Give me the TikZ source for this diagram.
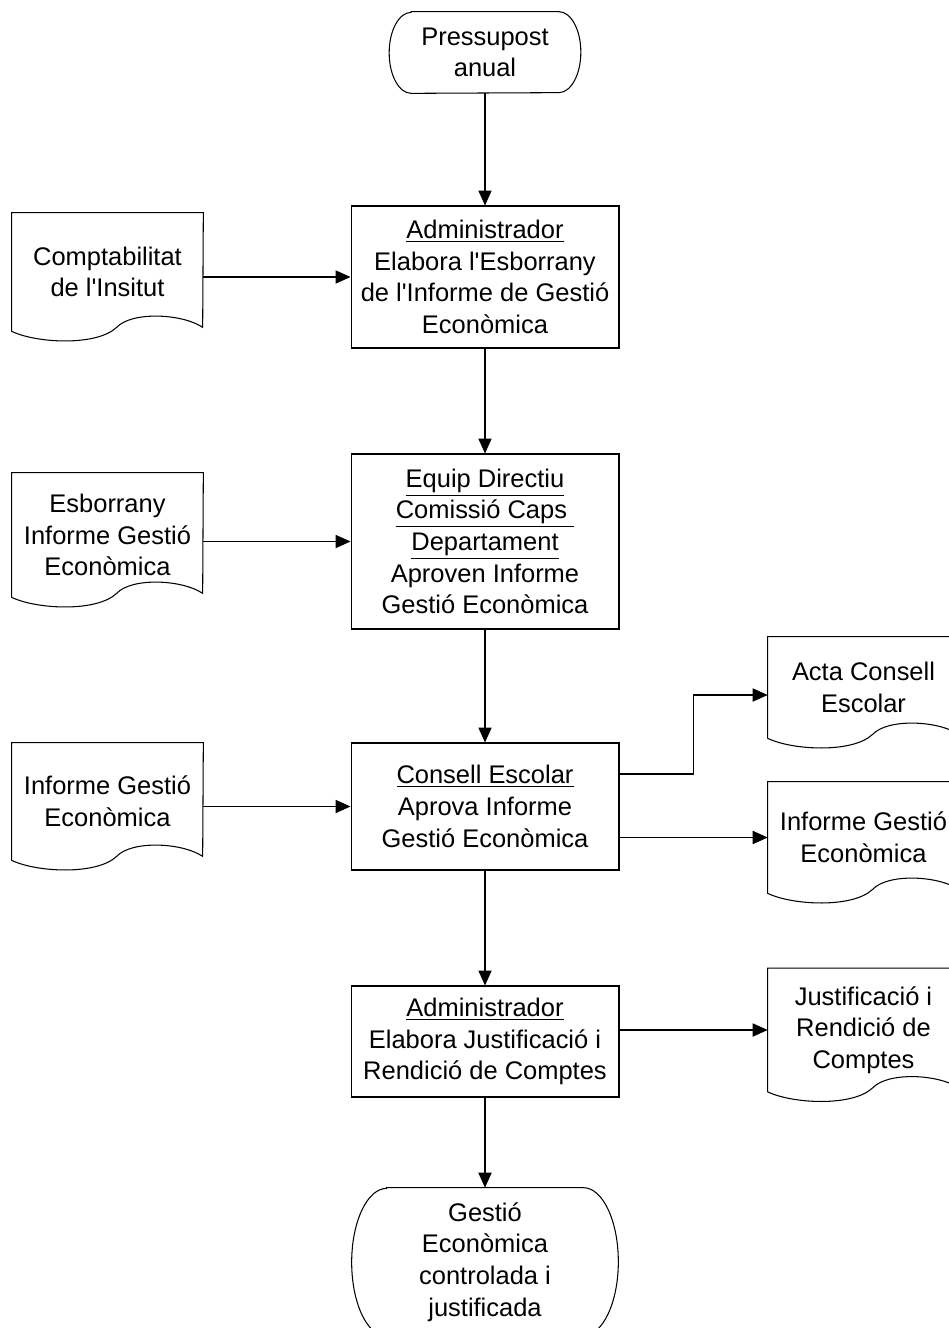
\documentclass[tikz,border=0pt]{standalone}
\usepackage{fontspec}
\setmainfont{Liberation Sans}
\usetikzlibrary{arrows.meta}

\tikzset{
  proces/.style={draw, line width=0.6pt, inner sep=0pt, align=center, minimum width=5.36cm},
  document/.style={inner sep=0pt, align=center, minimum width=3.82cm},
  terminal/.style={inner sep=0pt, align=center},
  fletxa/.style={line width=0.6pt, -{Triangle[length=8.5pt,width=7.5pt]}}
}
% document amb la vora inferior ondulada
\newcommand\docshape[1]{\draw[line width=0.6pt, shift={(#1.south west)}] (0,0) .. controls (25,12) and (85,15) .. (105,-4) .. controls (120,-20) and (170,-18) .. (191,-4) -- (#1.north east) -- (#1.north west) -- cycle;}
% inici / final
\newcommand\termshape[3]{\draw[line width=0.6pt] ([xshift=#2]#1.north west) -- ([xshift=-#2]#1.north east) arc[start angle=90, end angle=-90, x radius=#2, y radius=#3] -- ([xshift=#2]#1.south west) arc[start angle=270, end angle=90, x radius=#2, y radius=#3] -- cycle;}
\newcommand\ap{\textquotesingle}

\begin{document}
\begin{tikzpicture}[x=0.02cm, y=-0.02cm, font=\fontsize{14.5pt}{18pt}\selectfont]
      \useasboundingbox (0,0) rectangle (949,1328);
      \clip (0,0) rectangle (949,1328);
      %inici
      \node[terminal, minimum width=3.82cm, minimum height=1.62cm] (pres) at (485,52.5) {Pressupost\\anual};
      \termshape{pres}{0.44cm}{0.81cm}
      %columna central
      \node[proces, minimum height=2.84cm] (adm1) at (485,277) {\underline{Administrador}\\Elabora l\ap Esborrany\\de l\ap Informe de Gestió\\Econòmica};
      \node[proces, minimum height=3.5cm] (equip) at (485,541.5) {\underline{Equip Directiu}\\\underline{Comissió Caps\ }\\\underline{Departament}\\Aproven Informe\\Gestió Econòmica};
      \node[proces, minimum height=2.54cm] (consell) at (485,806.5) {\underline{Consell Escolar}\\Aprova Informe\\Gestió Econòmica};
      \node[proces, minimum height=2.22cm] (adm2) at (485,1041.5) {\underline{Administrador}\\Elabora Justificació i\\Rendició de Comptes};
      %final
      \node[terminal, minimum width=5.32cm, minimum height=2.96cm] (gest) at (485,1262) {Gestió\\Econòmica\\controlada i\\justificada};
      \termshape{gest}{0.7cm}{1.48cm}
      %documents esquerra
      \node[document, minimum height=2.36cm] (comp) at (107.5,272) {Comptabilitat\\de l\ap Insitut};
      \node[document, minimum height=2.48cm] (esb) at (107.5,535) {Esborrany\\Informe Gestió\\Econòmica};
      \node[document, minimum height=2.34cm] (infL) at (107.5,801.5) {Informe Gestió\\Econòmica};
      \docshape{comp}
      \docshape{esb}
      \docshape{infL}
      %documents dreta
      \node[document, minimum height=2.02cm] (acta) at (863.5,687.5) {Acta Consell\\Escolar};
      \node[document, minimum height=2.22cm] (infR) at (863.5,837.5) {Informe Gestió\\Econòmica};
      \node[document, minimum height=2.46cm] (just) at (863.5,1030) {Justificació i\\Rendició de\\Comptes};
      \docshape{acta}
      \docshape{infR}
      \docshape{just}
      %fletxes
      \draw[fletxa] (pres) -- (adm1);
      \draw[fletxa] (adm1) -- (equip);
      \draw[fletxa] (equip) -- (consell);
      \draw[fletxa] (consell) -- (adm2);
      \draw[fletxa] (adm2) -- (gest);
      \draw[fletxa] (comp.east |- adm1.west) -- (adm1.west);
      \draw[fletxa] (esb.east |- equip.west) -- (equip.west);
      \draw[fletxa] (infL.east |- consell.west) -- (consell.west);
      \draw[fletxa] ([yshift=0.65cm]consell.east) -- ++(74,0) |- ([yshift=-0.15cm]acta.west);
      \draw[fletxa] (consell.east |- infR.west) -- (infR.west);
      \draw[fletxa] (adm2.east |- just.west) -- (just.west);
\end{tikzpicture}
\end{document}
